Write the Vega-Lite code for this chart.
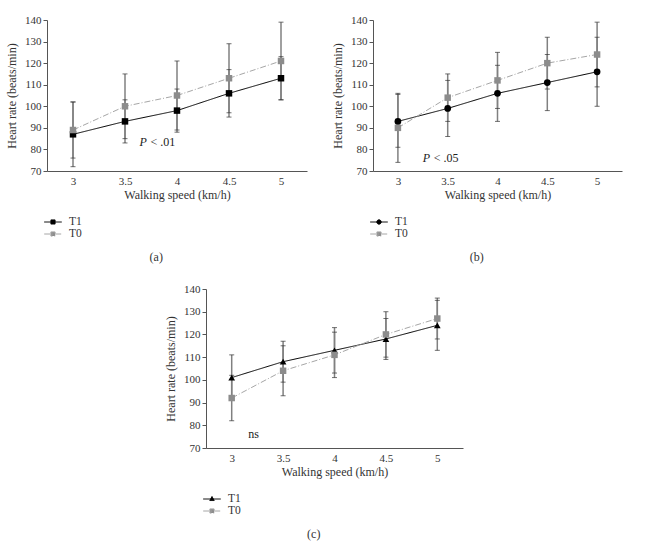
{
  "$schema": "https://vega.github.io/schema/vega-lite/v6.json",
  "background": "white",
  "padding": {"left": 5, "top": 14, "right": 5, "bottom": 5},
  "datasets": {
    "a": [
      {"speed": 3, "group": "T1", "mean": 87, "lo": 72, "hi": 102},
      {"speed": 3.5, "group": "T1", "mean": 93, "lo": 83, "hi": 103},
      {"speed": 4, "group": "T1", "mean": 98, "lo": 88, "hi": 108},
      {"speed": 4.5, "group": "T1", "mean": 106, "lo": 95, "hi": 117},
      {"speed": 5, "group": "T1", "mean": 113, "lo": 103, "hi": 123},
      {"speed": 3, "group": "T0", "mean": 89, "lo": 76, "hi": 102},
      {"speed": 3.5, "group": "T0", "mean": 100, "lo": 85, "hi": 115},
      {"speed": 4, "group": "T0", "mean": 105, "lo": 89, "hi": 121},
      {"speed": 4.5, "group": "T0", "mean": 113, "lo": 97, "hi": 129},
      {"speed": 5, "group": "T0", "mean": 121, "lo": 103, "hi": 139}
    ],
    "b": [
      {"speed": 3, "group": "T1", "mean": 93, "lo": 81, "hi": 105.5},
      {"speed": 3.5, "group": "T1", "mean": 99, "lo": 86, "hi": 112},
      {"speed": 4, "group": "T1", "mean": 106, "lo": 93, "hi": 119},
      {"speed": 4.5, "group": "T1", "mean": 111, "lo": 98, "hi": 124},
      {"speed": 5, "group": "T1", "mean": 116, "lo": 100, "hi": 132},
      {"speed": 3, "group": "T0", "mean": 90, "lo": 74, "hi": 106},
      {"speed": 3.5, "group": "T0", "mean": 104, "lo": 93, "hi": 115},
      {"speed": 4, "group": "T0", "mean": 112, "lo": 99, "hi": 125},
      {"speed": 4.5, "group": "T0", "mean": 120, "lo": 108, "hi": 132},
      {"speed": 5, "group": "T0", "mean": 124, "lo": 109, "hi": 139}
    ],
    "c": [
      {"speed": 3, "group": "T1", "mean": 101, "lo": 91, "hi": 111},
      {"speed": 3.5, "group": "T1", "mean": 108, "lo": 99, "hi": 117},
      {"speed": 4, "group": "T1", "mean": 113, "lo": 103, "hi": 123},
      {"speed": 4.5, "group": "T1", "mean": 118, "lo": 109, "hi": 127},
      {"speed": 5, "group": "T1", "mean": 124, "lo": 113, "hi": 135},
      {"speed": 3, "group": "T0", "mean": 92, "lo": 82, "hi": 102},
      {"speed": 3.5, "group": "T0", "mean": 104, "lo": 93, "hi": 115},
      {"speed": 4, "group": "T0", "mean": 111, "lo": 101, "hi": 121},
      {"speed": 4.5, "group": "T0", "mean": 120, "lo": 110, "hi": 130},
      {"speed": 5, "group": "T0", "mean": 127, "lo": 118, "hi": 136}
    ],
    "ta": [{"speed": 3.64, "mean": 83.5, "p": "P", "rest": "< .01"}],
    "tb": [{"speed": 3.25, "mean": 76, "p": "P", "rest": "< .05"}],
    "tc": [{"speed": 3.16, "mean": 76.2, "t": "ns"}]
  },
  "vconcat": [
    {
      "hconcat": [
        {
          "width": 260,
          "height": 151,
          "title": {"text": "(a)", "orient": "bottom", "frame": "bounds", "anchor": "middle", "offset": 12},
          "encoding": {
            "x": {"field": "speed", "type": "quantitative", "scale": {"domain": [2.75, 5.25], "nice": false, "zero": false},
              "axis": {"values": [3, 3.5, 4, 4.5, 5], "format": "~g", "ticks": false, "labelPadding": 4, "title": "Walking speed (km/h)", "titlePadding": 3}}
          },
          "layer": [
            {
              "data": {"name": "a"},
              "mark": {"type": "rule", "color": "#808080", "strokeWidth": 1.5},
              "encoding": {
                "y": {"field": "lo", "type": "quantitative", "scale": {"domain": [70, 140], "nice": false, "zero": false}, "axis": {"values": [70, 80, 90, 100, 110, 120, 130, 140], "labelOverlap": false, "tickSize": 4, "title": "Heart rate (beats/min)", "titlePadding": 6}},
                "y2": {"field": "hi"}
              }
            },
            {
              "data": {"name": "a"},
              "mark": {"type": "tick", "orient": "horizontal", "color": "#333", "size": 5, "thickness": 1},
              "encoding": {"y": {"field": "lo", "type": "quantitative", "axis": {"values": [70, 80, 90, 100, 110, 120, 130, 140], "labelOverlap": false, "tickSize": 4, "title": "Heart rate (beats/min)", "titlePadding": 6}}}
            },
            {
              "data": {"name": "a"},
              "mark": {"type": "tick", "orient": "horizontal", "color": "#333", "size": 5, "thickness": 1},
              "encoding": {"y": {"field": "hi", "type": "quantitative", "axis": {"values": [70, 80, 90, 100, 110, 120, 130, 140], "labelOverlap": false, "tickSize": 4, "title": "Heart rate (beats/min)", "titlePadding": 6}}}
            },
            {
              "data": {"name": "a"},
              "mark": {"type": "line", "strokeWidth": 1},
              "encoding": {
                "y": {"field": "mean", "type": "quantitative", "axis": {"values": [70, 80, 90, 100, 110, 120, 130, 140], "labelOverlap": false, "tickSize": 4, "title": "Heart rate (beats/min)", "titlePadding": 6}},
                "color": {"field": "group", "type": "nominal", "scale": {"domain": ["T1", "T0"], "range": ["#000000", "#a6a6a6"]},
                  "legend": {"title": null, "orient": "bottom", "direction": "vertical", "symbolSize": 121, "labelOffset": 10, "rowPadding": 0, "offset": 16,
                    "encode": {"symbols": {"update": {
                      "shape": {"value": "M-1.6,0H1.6M-0.38,-0.38H0.38V0.38H-0.38Z"},
                      "fill": {"signal": "datum.value === 'T1' ? '#000' : '#8c8c8c'"},
                      "stroke": {"signal": "datum.value === 'T1' ? '#000' : '#a6a6a6'"},
                      "strokeDash": {"signal": "datum.value === 'T1' ? [1, 0] : [4, 2, 1, 2]"},
                      "strokeWidth": {"value": 1}}}}}},
                "strokeDash": {"field": "group", "type": "nominal", "scale": {"domain": ["T1", "T0"], "range": [[1, 0], [6, 2, 1, 2]]}, "legend": null}
              }
            },
            {
              "data": {"name": "a"},
              "transform": [{"filter": "datum.group === 'T1'"}],
              "mark": {"type": "point", "filled": true, "opacity": 1, "size": 42, "shape": "square", "color": "#000"},
              "encoding": {"y": {"field": "mean", "type": "quantitative", "axis": {"values": [70, 80, 90, 100, 110, 120, 130, 140], "labelOverlap": false, "tickSize": 4, "title": "Heart rate (beats/min)", "titlePadding": 6}}}
            },
            {
              "data": {"name": "a"},
              "transform": [{"filter": "datum.group === 'T0'"}],
              "mark": {"type": "point", "filled": true, "opacity": 1, "size": 42, "shape": "square", "color": "#8c8c8c"},
              "encoding": {"y": {"field": "mean", "type": "quantitative", "axis": {"values": [70, 80, 90, 100, 110, 120, 130, 140], "labelOverlap": false, "tickSize": 4, "title": "Heart rate (beats/min)", "titlePadding": 6}}}
            },
            {
              "data": {"name": "ta"},
              "mark": {"type": "text", "align": "left", "baseline": "middle", "fontStyle": "italic", "fontSize": 12, "font": "Liberation Serif", "color": "#222"},
              "encoding": {"y": {"field": "mean", "type": "quantitative", "axis": {"values": [70, 80, 90, 100, 110, 120, 130, 140], "labelOverlap": false, "tickSize": 4, "title": "Heart rate (beats/min)", "titlePadding": 6}}, "text": {"field": "p"}}
            },
            {
              "data": {"name": "ta"},
              "mark": {"type": "text", "align": "left", "baseline": "middle", "fontSize": 12, "dx": 11, "font": "Liberation Serif", "color": "#222"},
              "encoding": {"y": {"field": "mean", "type": "quantitative", "axis": {"values": [70, 80, 90, 100, 110, 120, 130, 140], "labelOverlap": false, "tickSize": 4, "title": "Heart rate (beats/min)", "titlePadding": 6}}, "text": {"field": "rest"}}
            }
          ]
        },
        {
          "width": 249,
          "height": 151,
          "title": {"text": "(b)", "orient": "bottom", "frame": "bounds", "anchor": "middle", "offset": 12},
          "encoding": {
            "x": {"field": "speed", "type": "quantitative", "scale": {"domain": [2.75, 5.25], "nice": false, "zero": false},
              "axis": {"values": [3, 3.5, 4, 4.5, 5], "format": "~g", "ticks": false, "labelPadding": 4, "title": "Walking speed (km/h)", "titlePadding": 3}}
          },
          "layer": [
            {
              "data": {"name": "b"},
              "mark": {"type": "rule", "color": "#808080", "strokeWidth": 1.5},
              "encoding": {
                "y": {"field": "lo", "type": "quantitative", "scale": {"domain": [70, 140], "nice": false, "zero": false}, "axis": {"values": [70, 80, 90, 100, 110, 120, 130, 140], "labelOverlap": false, "tickSize": 4, "title": "Heart rate (beats/min)", "titlePadding": 6}},
                "y2": {"field": "hi"}
              }
            },
            {
              "data": {"name": "b"},
              "mark": {"type": "tick", "orient": "horizontal", "color": "#333", "size": 5, "thickness": 1},
              "encoding": {"y": {"field": "lo", "type": "quantitative", "axis": {"values": [70, 80, 90, 100, 110, 120, 130, 140], "labelOverlap": false, "tickSize": 4, "title": "Heart rate (beats/min)", "titlePadding": 6}}}
            },
            {
              "data": {"name": "b"},
              "mark": {"type": "tick", "orient": "horizontal", "color": "#333", "size": 5, "thickness": 1},
              "encoding": {"y": {"field": "hi", "type": "quantitative", "axis": {"values": [70, 80, 90, 100, 110, 120, 130, 140], "labelOverlap": false, "tickSize": 4, "title": "Heart rate (beats/min)", "titlePadding": 6}}}
            },
            {
              "data": {"name": "b"},
              "mark": {"type": "line", "strokeWidth": 1},
              "encoding": {
                "y": {"field": "mean", "type": "quantitative", "axis": {"values": [70, 80, 90, 100, 110, 120, 130, 140], "labelOverlap": false, "tickSize": 4, "title": "Heart rate (beats/min)", "titlePadding": 6}},
                "color": {"field": "group", "type": "nominal", "scale": {"domain": ["T1", "T0"], "range": ["#000000", "#a6a6a6"]},
                  "legend": {"title": null, "orient": "bottom", "direction": "vertical", "symbolSize": 121, "labelOffset": 10, "rowPadding": 0, "offset": 16,
                    "encode": {"symbols": {"update": {
                      "shape": {"signal": "datum.value === 'T1' ? 'M-1.6,0H1.6M0.4,0A0.4,0.4 0 1,1 -0.4,0A0.4,0.4 0 1,1 0.4,0Z' : 'M-1.6,0H1.6M-0.38,-0.38H0.38V0.38H-0.38Z'"},
                      "fill": {"signal": "datum.value === 'T1' ? '#000' : '#8c8c8c'"},
                      "stroke": {"signal": "datum.value === 'T1' ? '#000' : '#a6a6a6'"},
                      "strokeDash": {"signal": "datum.value === 'T1' ? [1, 0] : [4, 2, 1, 2]"},
                      "strokeWidth": {"value": 1}}}}}},
                "strokeDash": {"field": "group", "type": "nominal", "scale": {"domain": ["T1", "T0"], "range": [[1, 0], [6, 2, 1, 2]]}, "legend": null}
              }
            },
            {
              "data": {"name": "b"},
              "transform": [{"filter": "datum.group === 'T1'"}],
              "mark": {"type": "point", "filled": true, "opacity": 1, "size": 45, "shape": "circle", "color": "#000"},
              "encoding": {"y": {"field": "mean", "type": "quantitative", "axis": {"values": [70, 80, 90, 100, 110, 120, 130, 140], "labelOverlap": false, "tickSize": 4, "title": "Heart rate (beats/min)", "titlePadding": 6}}}
            },
            {
              "data": {"name": "b"},
              "transform": [{"filter": "datum.group === 'T0'"}],
              "mark": {"type": "point", "filled": true, "opacity": 1, "size": 42, "shape": "square", "color": "#8c8c8c"},
              "encoding": {"y": {"field": "mean", "type": "quantitative", "axis": {"values": [70, 80, 90, 100, 110, 120, 130, 140], "labelOverlap": false, "tickSize": 4, "title": "Heart rate (beats/min)", "titlePadding": 6}}}
            },
            {
              "data": {"name": "tb"},
              "mark": {"type": "text", "align": "left", "baseline": "middle", "fontStyle": "italic", "fontSize": 12, "font": "Liberation Serif", "color": "#222"},
              "encoding": {"y": {"field": "mean", "type": "quantitative", "axis": {"values": [70, 80, 90, 100, 110, 120, 130, 140], "labelOverlap": false, "tickSize": 4, "title": "Heart rate (beats/min)", "titlePadding": 6}}, "text": {"field": "p"}}
            },
            {
              "data": {"name": "tb"},
              "mark": {"type": "text", "align": "left", "baseline": "middle", "fontSize": 12, "dx": 11, "font": "Liberation Serif", "color": "#222"},
              "encoding": {"y": {"field": "mean", "type": "quantitative", "axis": {"values": [70, 80, 90, 100, 110, 120, 130, 140], "labelOverlap": false, "tickSize": 4, "title": "Heart rate (beats/min)", "titlePadding": 6}}, "text": {"field": "rest"}}
            }
          ]
        }
      ],
      "spacing": 24,
      "resolve": {"scale": {"color": "independent", "strokeDash": "independent", "x": "independent", "y": "independent"}, "legend": {"color": "independent", "strokeDash": "independent"}}
    },
    {
      "width": 257,
      "height": 159,
      "title": {"text": "(c)", "orient": "bottom", "frame": "bounds", "anchor": "middle", "offset": 12},
      "encoding": {
        "x": {"field": "speed", "type": "quantitative", "scale": {"domain": [2.75, 5.25], "nice": false, "zero": false},
          "axis": {"values": [3, 3.5, 4, 4.5, 5], "format": "~g", "ticks": false, "labelPadding": 4, "title": "Walking speed (km/h)", "titlePadding": 3}}
      },
      "layer": [
        {
          "data": {"name": "c"},
          "mark": {"type": "rule", "color": "#808080", "strokeWidth": 1.5},
          "encoding": {
            "y": {"field": "lo", "type": "quantitative", "scale": {"domain": [70, 140], "nice": false, "zero": false}, "axis": {"values": [70, 80, 90, 100, 110, 120, 130, 140], "labelOverlap": false, "tickSize": 4, "title": "Heart rate (beats/min)", "titlePadding": 6}},
            "y2": {"field": "hi"}
          }
        },
        {
          "data": {"name": "c"},
          "mark": {"type": "tick", "orient": "horizontal", "color": "#333", "size": 5, "thickness": 1},
          "encoding": {"y": {"field": "lo", "type": "quantitative", "axis": {"values": [70, 80, 90, 100, 110, 120, 130, 140], "labelOverlap": false, "tickSize": 4, "title": "Heart rate (beats/min)", "titlePadding": 6}}}
        },
        {
          "data": {"name": "c"},
          "mark": {"type": "tick", "orient": "horizontal", "color": "#333", "size": 5, "thickness": 1},
          "encoding": {"y": {"field": "hi", "type": "quantitative", "axis": {"values": [70, 80, 90, 100, 110, 120, 130, 140], "labelOverlap": false, "tickSize": 4, "title": "Heart rate (beats/min)", "titlePadding": 6}}}
        },
        {
          "data": {"name": "c"},
          "mark": {"type": "line", "strokeWidth": 1},
          "encoding": {
            "y": {"field": "mean", "type": "quantitative", "axis": {"values": [70, 80, 90, 100, 110, 120, 130, 140], "labelOverlap": false, "tickSize": 4, "title": "Heart rate (beats/min)", "titlePadding": 6}},
            "color": {"field": "group", "type": "nominal", "scale": {"domain": ["T1", "T0"], "range": ["#000000", "#a6a6a6"]},
              "legend": {"title": null, "orient": "bottom", "direction": "vertical", "symbolSize": 121, "labelOffset": 10, "rowPadding": 0, "offset": 16,
                "encode": {"symbols": {"update": {
                  "shape": {"signal": "datum.value === 'T1' ? 'M-1.6,0H1.6M0,-0.45L0.4,0.28H-0.4Z' : 'M-1.6,0H1.6M-0.38,-0.38H0.38V0.38H-0.38Z'"},
                  "fill": {"signal": "datum.value === 'T1' ? '#000' : '#8c8c8c'"},
                  "stroke": {"signal": "datum.value === 'T1' ? '#000' : '#a6a6a6'"},
                  "strokeDash": {"signal": "datum.value === 'T1' ? [1, 0] : [4, 2, 1, 2]"},
                  "strokeWidth": {"value": 1}}}}}},
            "strokeDash": {"field": "group", "type": "nominal", "scale": {"domain": ["T1", "T0"], "range": [[1, 0], [6, 2, 1, 2]]}, "legend": null}
          }
        },
        {
          "data": {"name": "c"},
          "transform": [{"filter": "datum.group === 'T1'"}],
          "mark": {"type": "point", "filled": true, "opacity": 1, "size": 45, "shape": "triangle-up", "color": "#000"},
          "encoding": {"y": {"field": "mean", "type": "quantitative", "axis": {"values": [70, 80, 90, 100, 110, 120, 130, 140], "labelOverlap": false, "tickSize": 4, "title": "Heart rate (beats/min)", "titlePadding": 6}}}
        },
        {
          "data": {"name": "c"},
          "transform": [{"filter": "datum.group === 'T0'"}],
          "mark": {"type": "point", "filled": true, "opacity": 1, "size": 42, "shape": "square", "color": "#8c8c8c"},
          "encoding": {"y": {"field": "mean", "type": "quantitative", "axis": {"values": [70, 80, 90, 100, 110, 120, 130, 140], "labelOverlap": false, "tickSize": 4, "title": "Heart rate (beats/min)", "titlePadding": 6}}}
        },
        {
          "data": {"name": "tc"},
          "mark": {"type": "text", "align": "left", "baseline": "middle", "fontSize": 12, "font": "Liberation Serif", "color": "#222"},
          "encoding": {"y": {"field": "mean", "type": "quantitative", "axis": {"values": [70, 80, 90, 100, 110, 120, 130, 140], "labelOverlap": false, "tickSize": 4, "title": "Heart rate (beats/min)", "titlePadding": 6}}, "text": {"field": "t"}}
        }
      ]
    }
  ],
  "spacing": 20,
  "center": true,
  "resolve": {"scale": {"color": "independent", "strokeDash": "independent", "x": "independent", "y": "independent"}, "legend": {"color": "independent", "strokeDash": "independent"}},
  "config": {
    "font": "Liberation Serif",
    "view": {"stroke": null},
    "axis": {
      "labelFont": "Liberation Serif", "titleFont": "Liberation Serif",
      "labelFontSize": 11, "titleFontSize": 12, "titleFontWeight": "normal",
      "labelOverlap": false,
      "grid": false, "domainColor": "#555", "tickColor": "#555",
      "labelColor": "#333", "titleColor": "#333"
    },
    "legend": {"labelFont": "Liberation Serif", "labelFontSize": 11.5, "labelColor": "#333"},
    "title": {"font": "Liberation Serif", "fontSize": 12, "fontWeight": "normal", "color": "#333"}
  }
}
